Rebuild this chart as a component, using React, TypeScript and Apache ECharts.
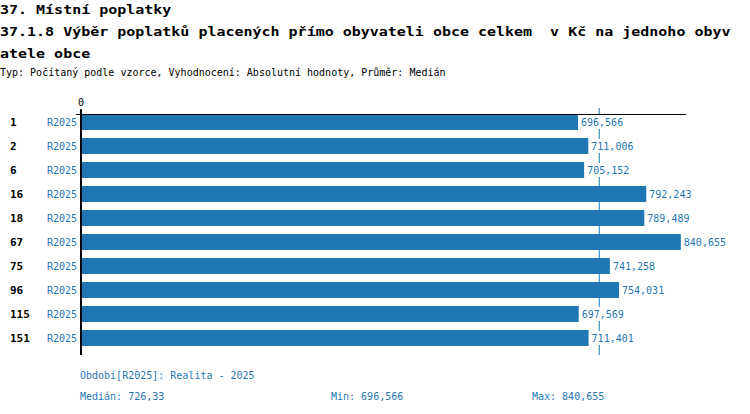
import React, { useEffect, useRef } from "react";
import * as echarts from "echarts";

const categories = ["1", "2", "6", "16", "18", "67", "75", "96", "115", "151"];
const periodCode = "R2025";
const periodName = "Realita - 2025";
const values = [696.566, 711.006, 705.152, 792.243, 789.489, 840.655, 741.258, 754.031, 697.569, 711.401];
const titleLines = [
  "37. Místní poplatky",
  "37.1.8 Výběr poplatků placených přímo obyvateli obce celkem  v Kč na jednoho obyv",
  "atele obce",
];
const subtitle = "Typ: Počítaný podle vzorce, Vyhodnocení: Absolutní hodnoty, Průměr: Medián";
const axisMax = 847.5;

const BLUE = "#1f77b4";
const MONO = "'DejaVu Sans Mono', monospace";

const fmt3 = (v: number) => v.toFixed(3).replace(".", ",");
const fmt2 = (v: number) => v.toFixed(2).replace(".", ",");

function medianOf(arr: number[]) {
  const s = [...arr].sort((a, b) => a - b);
  const m = Math.floor(s.length / 2);
  return s.length % 2 ? s[m] : (s[m - 1] + s[m]) / 2;
}

export default function App() {
  const ref = useRef<HTMLDivElement>(null);
  useEffect(() => {
    document.body.style.margin = "0";
    const chart = echarts.init(ref.current!, null, { renderer: "svg" });
    const med = medianOf(values);
    const mn = Math.min(...values);
    const mx = Math.max(...values);
    chart.setOption({
      animation: false,
      grid: { left: 81, top: 110, width: 604.7, height: 240, containLabel: false },
      xAxis: {
        type: "value",
        position: "top",
        offset: -4,
        z: 10,
        min: 0,
        max: axisMax,
        splitLine: { show: false },
        axisLine: { show: true, lineStyle: { color: "#000", width: 1 } },
        axisTick: { show: false },
        axisLabel: {
          customValues: [0],
          margin: 7,
          fontFamily: MONO,
          fontSize: 10,
          color: "#000",
        },
      },
      yAxis: {
        type: "category",
        inverse: true,
        data: categories,
        z: 10,
        axisTick: { show: false },
        axisLine: { show: true, lineStyle: { color: "#000", width: 2 } },
        axisLabel: {
          margin: 4,
          formatter: (c: string) => `{a|${c}}{b|${periodCode}}`,
          rich: {
            a: { fontFamily: MONO, fontWeight: "bold", fontSize: 11, color: "#000", width: 37, align: "left" },
            b: { fontFamily: MONO, fontSize: 10, color: BLUE, width: 30, align: "right" },
          },
        },
      },
      series: [
        {
          type: "bar",
          data: values,
          barWidth: 16,
          z: 3,
          itemStyle: { color: BLUE },
          label: {
            show: true,
            position: "right",
            distance: 2,
            padding: [2, 1, 2, 1],
            backgroundColor: "#fff",
            fontFamily: MONO,
            fontSize: 10,
            color: BLUE,
            formatter: (p: any) => fmt3(p.value),
          },
        },
      ],
    });
    const x0 = chart.convertToPixel({ xAxisIndex: 0 }, 0) as number;
    const xm = chart.convertToPixel({ xAxisIndex: 0 }, med) as number;
    const mk = (text: string, x: number, y: number, size: number, color: string, bold: boolean, sx: number) => ({
      type: "text",
      x,
      y,
      scaleX: sx,
      style: {
        text,
        x: 0,
        y: 0,
        fill: color,
        font: `${bold ? "bold " : ""}${size}px ${MONO}`,
        verticalAlign: "middle",
        align: "left",
      },
    });
    chart.setOption({
      graphic: [
        mk(titleLines[0], 0, 9, 13, "#000", true, 1.154),
        mk(titleLines[1], 0, 31, 13, "#000", true, 1.154),
        mk(titleLines[2], 0, 53, 13, "#000", true, 1.154),
        mk(subtitle, 0, 72.5, 10, "#000", false, 1),
        mk(`Období[${periodCode}]: ${periodName}`, 80, 375.5, 10, BLUE, false, 1),
        mk(`Medián: ${fmt2(med)}`, 80, 396, 10, BLUE, false, 1),
        mk(`Min: ${fmt3(mn)}`, 331, 396, 10, BLUE, false, 1),
        mk(`Max: ${fmt3(mx)}`, 532, 396, 10, BLUE, false, 1),
        {
          type: "line",
          shape: { x1: xm, y1: 108, x2: xm, y2: 355 },
          style: { stroke: BLUE, lineWidth: 1 },
          z: 1,
        },
        {
          type: "line",
          shape: { x1: x0, y1: 350, x2: x0, y2: 355 },
          style: { stroke: "#000", lineWidth: 2 },
        },
        {
          type: "line",
          shape: { x1: 76, y1: 114.5, x2: x0, y2: 114.5 },
          style: { stroke: "#000", lineWidth: 1 },
        },
      ],
    });
    return () => chart.dispose();
  }, []);
  return <div ref={ref} style={{ width: 750, height: 414 }} />;
}
